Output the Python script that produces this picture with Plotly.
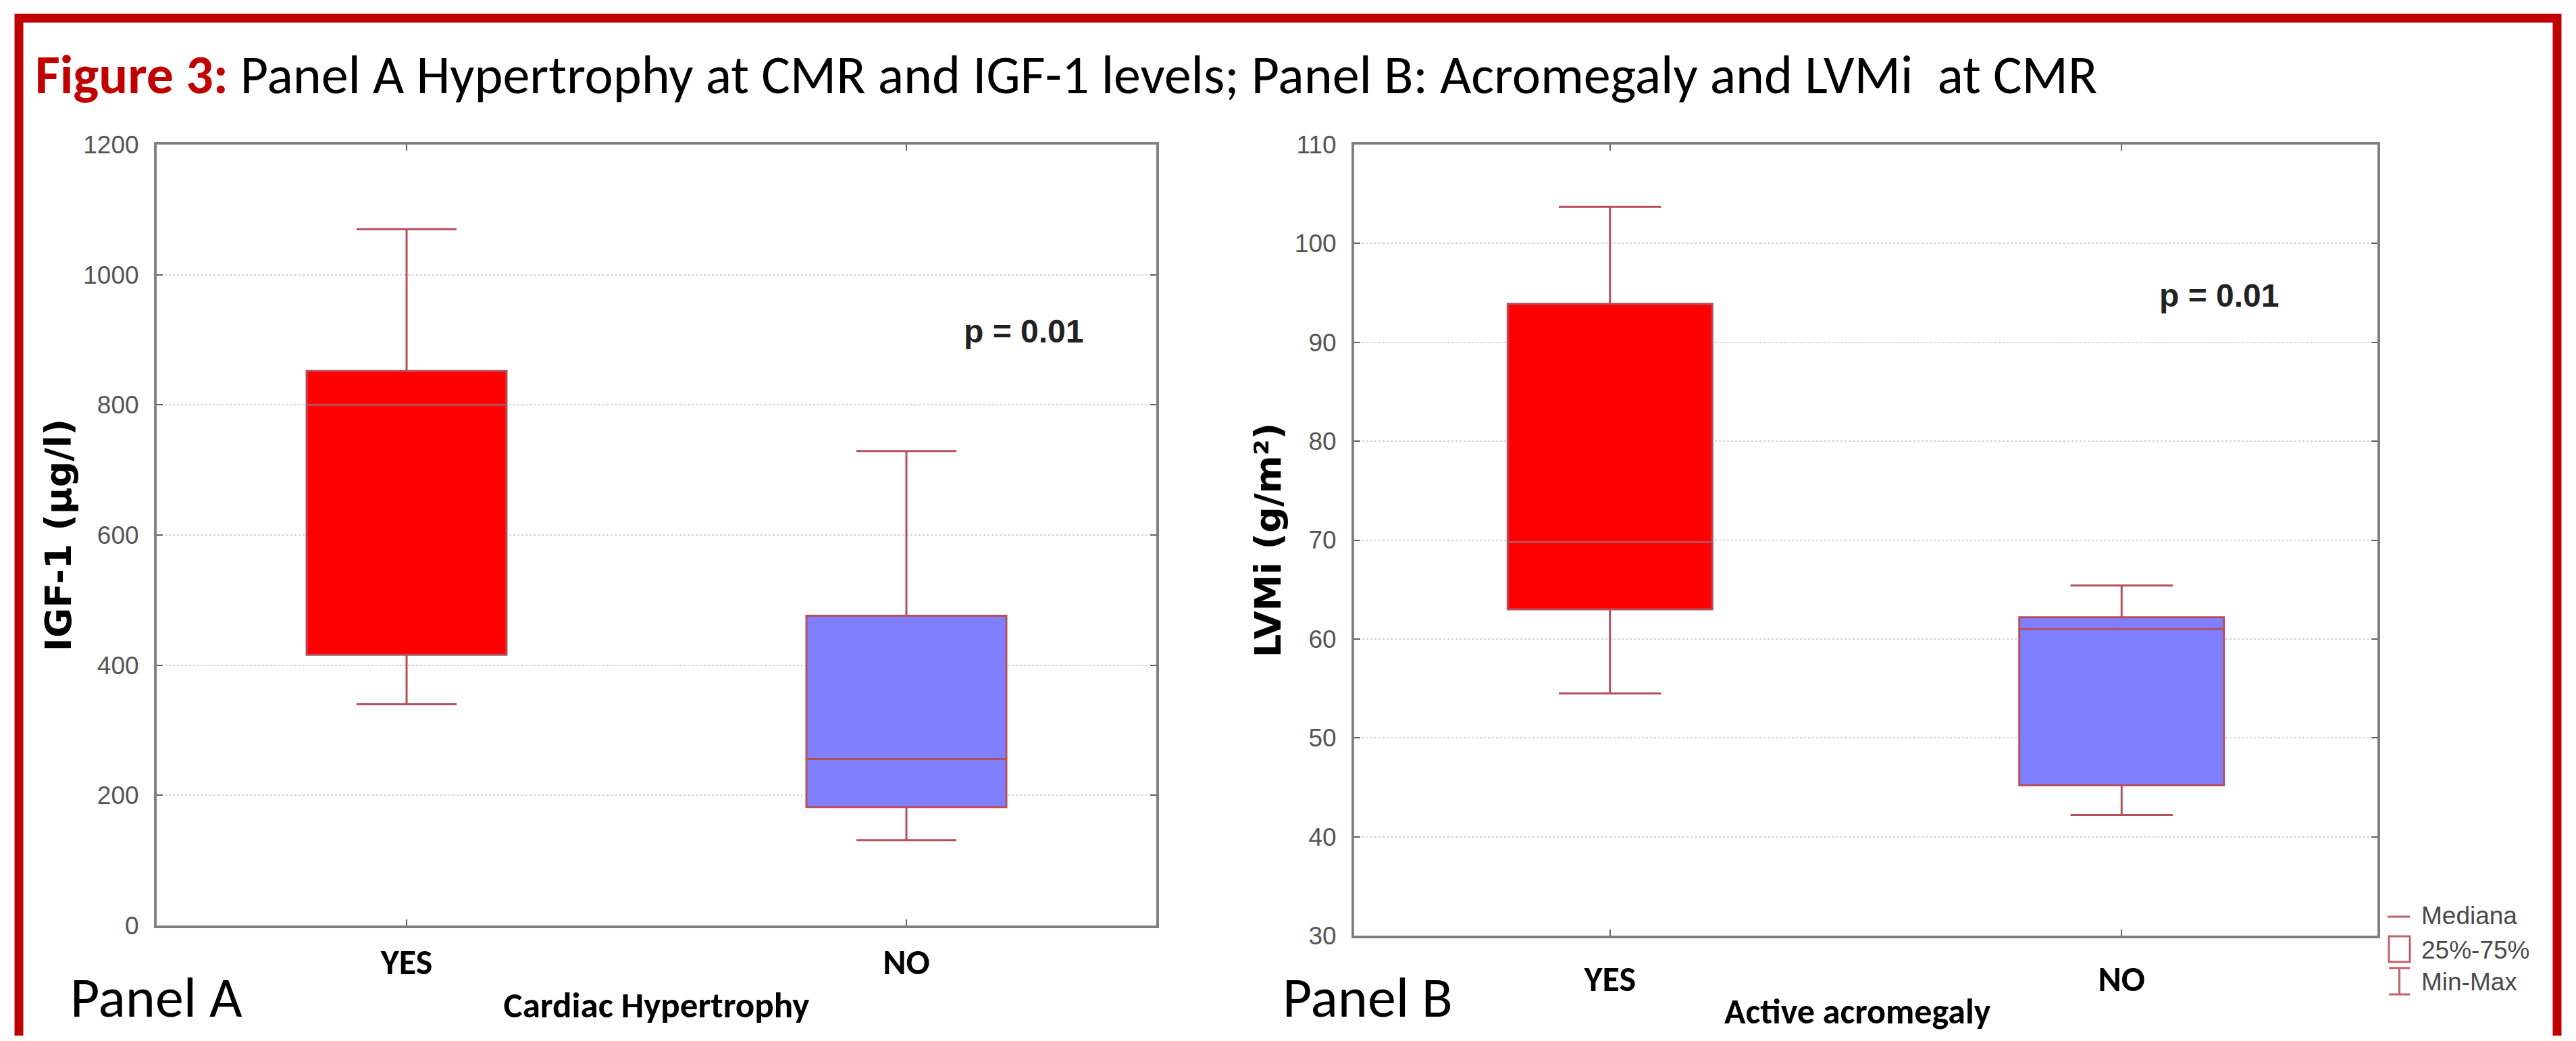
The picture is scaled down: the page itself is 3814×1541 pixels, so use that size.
import plotly.graph_objects as go

# ---------------- data ----------------
categories = ["YES", "NO"]

# Panel A: IGF-1 (µg/l) by cardiac hypertrophy
igf_min = [340, 131]
igf_q1 = [416, 182]
igf_med = [800, 256]
igf_q3 = [852, 476]
igf_max = [1070, 729]

# Panel B: LVMi (g/m²) by active acromegaly
lvmi_min = [54.5, 42.2]
lvmi_q1 = [63.0, 45.2]
lvmi_med = [69.8, 61.0]
lvmi_q3 = [93.9, 62.2]
lvmi_max = [103.7, 65.4]

p_values = ["p = 0.01", "p = 0.01"]
legend_labels = ["Mediana", "25%-75%", "Min-Max"]

# ---------------- styling ----------------
W, H = 3798, 1525
OFF = 8
FILLS = ["#FF0000", "#8080FF"]
BOXLINE = "#B4505C"
AXIS = "#808080"
FRAME = "#C00000"
ARIAL = "Liberation Sans, Arial"
WIDE = "DejaVu Sans, Verdana"
CAL = "Carlito, Calibri, Lato"


def px(X):
    return (X - OFF) / W


def py(Y):
    return 1 - (Y - OFF) / H


fig = go.Figure()

for i, cat in enumerate(categories):
    fig.add_trace(go.Box(
        x=[cat], q1=[igf_q1[i]], median=[igf_med[i]], q3=[igf_q3[i]],
        lowerfence=[igf_min[i]], upperfence=[igf_max[i]],
        fillcolor=FILLS[i], line=dict(color=BOXLINE, width=3),
        width=0.4, whiskerwidth=0.5, boxpoints=False, showlegend=False,
        xaxis="x", yaxis="y"))
    fig.add_trace(go.Box(
        x=[cat], q1=[lvmi_q1[i]], median=[lvmi_med[i]], q3=[lvmi_q3[i]],
        lowerfence=[lvmi_min[i]], upperfence=[lvmi_max[i]],
        fillcolor=FILLS[i], line=dict(color=BOXLINE, width=3),
        width=0.4, whiskerwidth=0.5, boxpoints=False, showlegend=False,
        xaxis="x2", yaxis="y2"))

common_x = dict(
    type="category", categoryorder="array", categoryarray=categories,
    range=[-0.5, 1.5], showline=True, linewidth=4, linecolor=AXIS,
    mirror="allticks", ticks="inside", ticklen=9, tickwidth=2, tickcolor="#606060",
    tickfont=dict(family=CAL, size=52, color="#000000", weight="bold"),
    showgrid=False, zeroline=False, automargin=False,
)
common_y = dict(
    showline=True, linewidth=4, linecolor=AXIS, mirror="allticks",
    ticks="inside", ticklen=9, tickwidth=2, tickcolor="#606060",
    tickfont=dict(family=ARIAL, size=37, color="#555555"),
    ticklabelstandoff=15,
    showgrid=True, gridcolor="#d4d4d4", gridwidth=2, griddash="dot",
    zeroline=False, automargin=False,
)

fig.update_layout(
    width=W, height=H, autosize=False,
    margin=dict(l=0, r=0, t=0, b=0),
    paper_bgcolor="white", plot_bgcolor="white",
    boxmode="overlay",
    xaxis=dict(common_x, domain=[px(232), px(1712)], anchor="y",
               ticklabelstandoff=6,
               title=dict(text="<b>Cardiac Hypertrophy</b>", standoff=14,
                          font=dict(family=CAL, size=53, color="#000"))),
    yaxis=dict(common_y, domain=[py(1370), py(214)], anchor="x",
               range=[0, 1200], dtick=200,
               title=dict(text="<b>IGF-1 (µg/l)</b>", standoff=1,
                          font=dict(family=WIDE, size=54, color="#000"))),
    xaxis2=dict(common_x, domain=[px(2005), px(3520)], anchor="y2",
                ticklabelstandoff=16),
    yaxis2=dict(common_y, domain=[py(1385), py(214)], anchor="x2",
                range=[30, 110], dtick=10,
                title=dict(text="<b>LVMi (g/m²)</b>", standoff=4,
                           font=dict(family=WIDE, size=54, color="#000"))),
)

ann = []
# title
ann.append(dict(
    xref="paper", yref="paper", x=px(50), y=py(110), xanchor="left", yanchor="middle",
    text="<span style='color:#C00000'><b>Figure 3:</b></span> Panel A Hypertrophy at CMR and IGF-1 levels; Panel B: Acromegaly and LVMi\u00a0 at CMR",
    showarrow=False, font=dict(family=CAL, size=80, color="#000")))
# x-axis title of panel B
ann.append(dict(xref="paper", yref="paper", x=px(2750), y=py(1497),
                xanchor="center", yanchor="middle", text="<b>Active acromegaly</b>",
                showarrow=False, font=dict(family=CAL, size=52, color="#000")))
# p values
ann.append(dict(xref="x", yref="y", x=1.234, y=913, text="<b>%s</b>" % p_values[0],
                xanchor="center", showarrow=False, font=dict(family=ARIAL, size=48, color="#222")))
ann.append(dict(xref="x2", yref="y2", x=1.19, y=94.7, text="<b>%s</b>" % p_values[1],
                xanchor="center", showarrow=False, font=dict(family=ARIAL, size=48, color="#222")))
# panel labels
ann.append(dict(xref="paper", yref="paper", x=px(231), y=py(1476), text="Panel A",
                xanchor="center", yanchor="middle",
                showarrow=False, font=dict(family=CAL, size=84, color="#000")))
ann.append(dict(xref="paper", yref="paper", x=px(2025), y=py(1476), text="Panel B",
                xanchor="center", yanchor="middle",
                showarrow=False, font=dict(family=CAL, size=84, color="#000")))
# legend texts
for lab, yy in zip(legend_labels, [1355, 1406, 1453]):
    ann.append(dict(xref="paper", yref="paper", x=px(3583), y=py(yy), text=lab,
                    xanchor="left", yanchor="middle", showarrow=False,
                    font=dict(family=ARIAL, size=37, color="#4a4a4a")))
fig.update_layout(annotations=ann)

LEG = "#C0606A"
shapes = [
    # red frame
    dict(type="rect", xref="paper", yref="paper", x0=px(28), x1=px(3786),
         y0=py(1600), y1=py(27), line=dict(color=FRAME, width=13), fillcolor="rgba(0,0,0,0)",
         layer="above"),
    # legend glyphs
    dict(type="line", xref="paper", yref="paper", x0=px(3535), x1=px(3568),
         y0=py(1357), y1=py(1357), line=dict(color=LEG, width=3)),
    dict(type="rect", xref="paper", yref="paper", x0=px(3537), x1=px(3568),
         y0=py(1424), y1=py(1386), line=dict(color=LEG, width=3)),
    dict(type="line", xref="paper", yref="paper", x0=px(3537), x1=px(3568),
         y0=py(1433), y1=py(1433), line=dict(color=LEG, width=3)),
    dict(type="line", xref="paper", yref="paper", x0=px(3537), x1=px(3568),
         y0=py(1472), y1=py(1472), line=dict(color=LEG, width=3)),
    dict(type="line", xref="paper", yref="paper", x0=px(3552.5), x1=px(3552.5),
         y0=py(1433), y1=py(1472), line=dict(color=LEG, width=3)),
]
fig.update_layout(shapes=shapes)

fig.write_html("out.html", config=dict(displayModeBar=False))
